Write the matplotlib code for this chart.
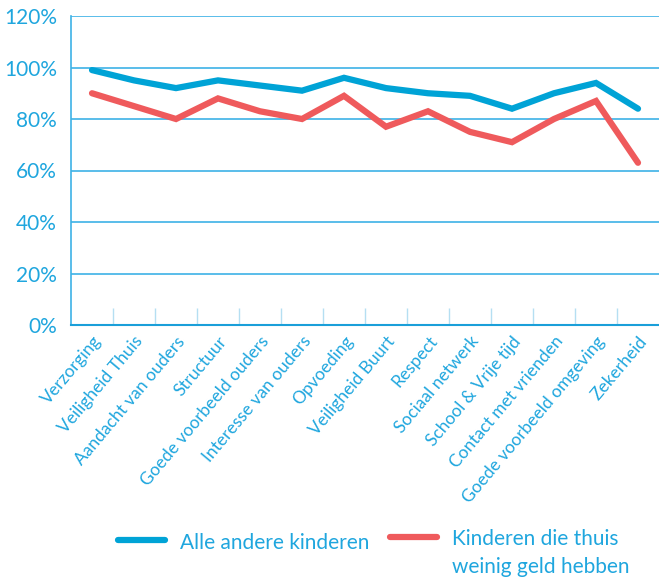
import matplotlib
matplotlib.use("Agg")
import matplotlib.pyplot as plt
import matplotlib.transforms as mtransforms
import numpy as np

categories = ["Verzorging", "Veiligheid Thuis", "Aandacht van ouders", "Structuur",
              "Goede voorbeeld ouders", "Interesse van ouders", "Opvoeding",
              "Veiligheid Buurt", "Respect", "Sociaal netwerk", "School & Vrije tijd",
              "Contact met vrienden", "Goede voorbeeld omgeving", "Zekerheid"]
alle_andere = [99, 95, 92, 95, 93, 91, 96, 92, 90, 89, 84, 90, 94, 84]
weinig_geld = [90, 85, 80, 88, 83, 80, 89, 77, 83, 75, 71, 80, 87, 63]
yticks = [0, 20, 40, 60, 80, 100, 120]
series_labels = ["Alle andere kinderen", "Kinderen die thuis\nweinig geld hebben"]

BLUE = "#00a3d6"
RED = "#ef5a5c"
TXT = "#1fa6de"
GRID = "#3db2e6"
TICK = "#b5dff2"

plt.rcParams['font.family'] = ['Lato', 'DejaVu Sans']

fig = plt.figure(figsize=(6.59, 5.77), dpi=100)
ax = fig.add_axes([71/659, 1-325/577, 1-71/659, (325-16)/577])

x = np.arange(len(categories))
ax.plot(x, alle_andere, color=BLUE, lw=4.5, solid_capstyle='round', solid_joinstyle='miter', zorder=3)
ax.plot(x, weinig_geld, color=RED, lw=4.5, solid_capstyle='round', solid_joinstyle='miter', zorder=3)

ax.set_xlim(-0.5, len(categories) - 0.5)
ax.set_ylim(0, 120)
ax.set_yticks(yticks)
ax.set_yticklabels([f"{v}%" for v in yticks], color=TXT, fontsize=15)
for y in yticks[1:]:
    ax.axhline(y, color=GRID, lw=1.2, zorder=1)

ax.set_xticks(x)
ax.set_xticklabels(categories, rotation=50, ha='right', rotation_mode='anchor',
                   color=TXT, fontsize=12.5)
offset = mtransforms.ScaledTranslation(-8/100, 0, fig.dpi_scale_trans)
for lab in ax.get_xticklabels():
    lab.set_transform(lab.get_transform() + offset)
ax.tick_params(axis='x', length=0, pad=6)
ax.tick_params(axis='y', length=0, pad=10)
ax.set_xticks(np.arange(0.5, len(categories) - 0.5, 1), minor=True)
ax.tick_params(axis='x', which='minor', direction='in', length=12, color=TICK, width=1)

for s in ['top', 'right']:
    ax.spines[s].set_visible(False)
ax.spines['left'].set_color(GRID)
ax.spines['left'].set_linewidth(1.2)
ax.spines['bottom'].set_color("#1a9fd9")
ax.spines['bottom'].set_linewidth(1.5)

# legend
fig.add_artist(plt.Line2D([118/659, 165/659], [1-540/577, 1-540/577], color=BLUE, lw=4.5,
                          solid_capstyle='round'))
fig.text(180/659, 1-543/577, series_labels[0], color=TXT, fontsize=15, va='center', ha='left')
fig.add_artist(plt.Line2D([390/659, 437/659], [1-537/577, 1-537/577], color=RED, lw=4.5,
                          solid_capstyle='round'))
fig.text(452/659, 1-529/577, series_labels[1], color=TXT, fontsize=15, va='top', ha='left',
         linespacing=1.5)

fig.savefig("out.png", dpi=100)
